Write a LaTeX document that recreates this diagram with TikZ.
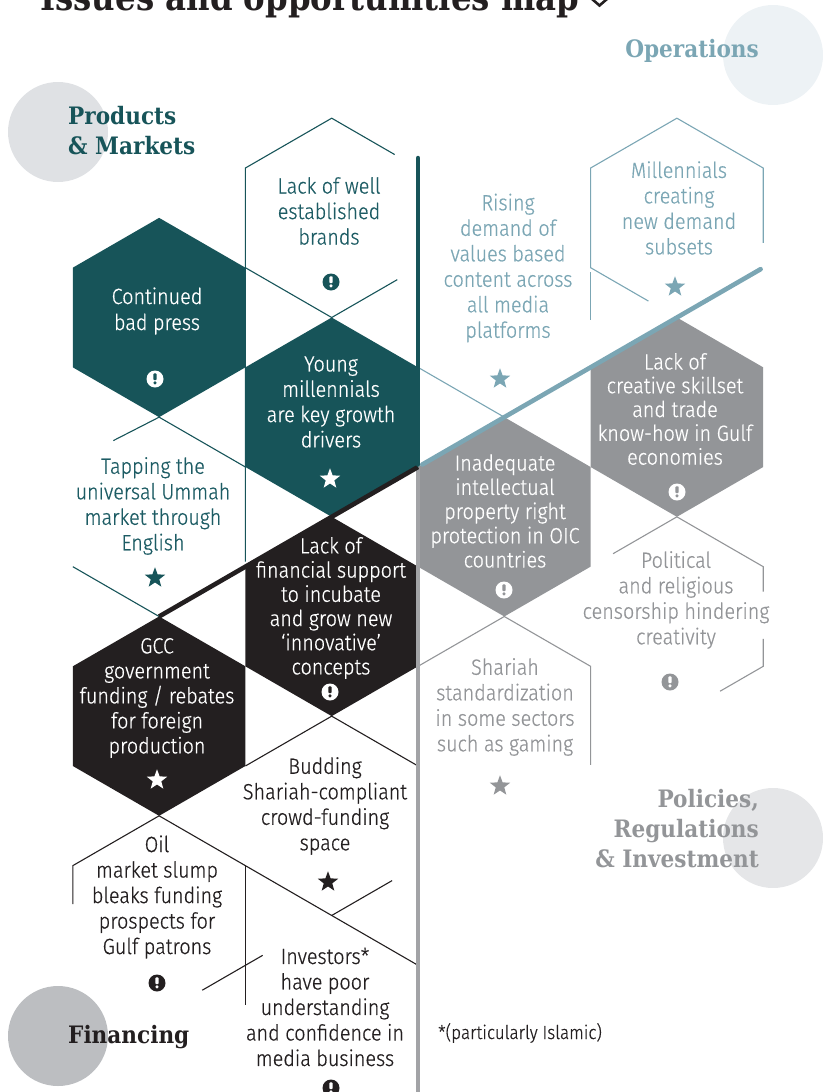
\documentclass[tikz,border=0pt]{standalone}
\usepackage{fontspec}
\usetikzlibrary{shapes.geometric}
\newfontfamily\hexf{Fira Sans Light}[FakeStretch=0.9, FakeBold=0.6]
\newfontfamily\slabf{DejaVu Serif}[FakeStretch=0.9]
\definecolor{tealc}{HTML}{175459}
\definecolor{tealt}{HTML}{1D5C64}
\definecolor{bluec}{HTML}{7BA6B4}
\definecolor{grayc}{HTML}{939598}
\definecolor{grayl}{HTML}{A2A3A6}
\definecolor{blackc}{HTML}{231F20}
\definecolor{circpm}{HTML}{DFE1E4}
\definecolor{circop}{HTML}{EDF2F5}
\definecolor{circpol}{HTML}{E5E6E8}
\definecolor{circfin}{HTML}{BCBEC1}
\newcommand\hexpath[2]{(#1,#2-2) -- (#1+1,#2-1) -- (#1+1,#2+1) -- (#1,#2+2) -- (#1-1,#2+1) -- (#1-1,#2-1) -- cycle}
\tikzset{
  thinl/.style={line width=1.1pt},
  thickl/.style={line width=4.6pt},
  hextext/.style={font=\hexf\fontsize{22}{25.5}\selectfont, align=center, inner sep=0pt},
  filltext/.style={font=\hexf\fontsize{22}{24.2}\selectfont, align=center, inner sep=0pt, text=white},
  label/.style={font=\slabf\bfseries\fontsize{24}{30}\selectfont, inner sep=0pt},
  starshape/.style={star, star points=5, star point ratio=2.4, minimum size=21.5pt, inner sep=0pt, draw=none},
  pics/warn/.style 2 args={code={
    \fill[#1] (0,0) circle (8.5pt);
    \fill[#2, rounded corners=0.7pt] (-1.6pt,-1.0pt) rectangle (1.6pt,5.6pt);
    \fill[#2] (0,-3.9pt) circle (1.7pt);
  }}
}
\begin{document}
\begin{tikzpicture}[x=1pt,y=-1pt]
\useasboundingbox (0,0) rectangle (823,1092);
\clip (0,0) rectangle (823,1092);
% quadrant circles
\fill[circpm] (58,132) circle (50pt);
\fill[circop] (773,55) circle (50pt);
\fill[circpol] (773,838) circle (50pt);
\fill[circfin] (58,1036) circle (50pt);
% title (cut by the top edge, as in the reference)
\node[font=\slabf\bfseries\fontsize{36}{40}\selectfont, text=blackc, anchor=base west, inner sep=0pt] (title) at (40,10) {Issues and opportunities map};
\draw[blackc, line width=2.6pt] (592,-1) -- (599.5,5.5) -- (607,-1);
\begin{scope}[shift={(418,467)},x=86.3pt,y=-49.83pt]
  % thin outlines: Products & Markets
  \draw[tealc, thinl] (-0.27,-6.27) -- (-1,-7) -- (-2,-6) -- (-2,1.9);
  \draw[tealc, thinl] (-2,-4) -- (-1,-3) -- (-0.24,-3.76);
  \draw[tealc, thinl] (-3.53,-0.53) -- (-3,-1) -- (-2,0);
  \draw[tealc, thinl] (-4,2) -- (-3,3);
  % Operations
  \draw[bluec, thinl] (0,-2) -- (1,-1);
  \draw[bluec, thinl] (2,-3.91) -- (2,-2.95);
  \draw[bluec, thinl] (4,-4.5) -- (4,-6) -- (3,-7) -- (2,-6) -- (2,-4) -- (2.67,-3.33);
  % Policies
  \draw[grayc, thinl] (2.26,1.74) -- (3,1) -- (4,2) -- (4,2.5);
  \draw[grayc, thinl] (4,3.45) -- (4,4) -- (3.5,4.5);
  \draw[grayc, thinl] (0,4) -- (1,3) -- (2,4) -- (2,5.98);
  % Financing
  \draw[blackc, thinl] (-2,6) -- (-1,5) -- (0,6);
  \draw[blackc, thinl] (-0.3,8.3) -- (-1,9);
  \draw[blackc, thinl] (-4,8.77) -- (-4,8) -- (-3,7) -- (0,10);
  \draw[blackc, thinl] (-2,8) -- (-2,10.8);
  \draw[blackc, thinl] (-2.5,10.5) -- (-1.8,9.8);
  % filled hexagons
  \fill[tealc] \hexpath{-3}{-3};
  \fill[tealc] \hexpath{-1}{-1};
  \fill[grayc] \hexpath{3}{-1};
  \fill[grayc] \hexpath{1}{1};
  \fill[blackc] \hexpath{-1}{3};
  \fill[blackc] \hexpath{-3}{5};
  % axes
  \draw[grayl, thickl] (0,0.02) -- (0,13);
  \draw[blackc, thickl] (0,0) -- (-3,3);
  \draw[tealc, thickl, line cap=round] (0,-0.05) -- (0,-6.2);
  \draw[bluec, thickl, line cap=round] (0.05,-0.05) -- (3.97,-3.97);
\end{scope}
% quadrant labels
\node[label, text=tealc, align=left, anchor=west] (pm) at (68,131) {Products\\\& Markets};
\node[label, text=bluec, anchor=east] (op) at (759,51) {Operations};
\node[label, text=grayc, align=right, anchor=east] (pol) at (759,829) {Policies,\\Regulations\\\& Investment};
\node[label, text=blackc, anchor=west] (fin) at (68,1037) {Financing};
% hexagon texts
\node[hextext, text=tealt] (brands) at (329,211) {Lack of well\\established\\brands};
\node[filltext, font=\hexf\fontsize{22}{26}\selectfont] (press) at (157,311) {Continued\\bad press};
\node[filltext, font=\hexf\fontsize{22}{25.3}\selectfont] (young) at (331,402) {Young\\millennials\\are key growth\\drivers};
\node[hextext, text=tealt] (ummah) at (153,506) {Tapping the\\universal Ummah\\market through\\English};
\node[hextext, text=bluec] (rising) at (508,268) {Rising\\demand of\\values based\\content across\\all media\\platforms};
\node[hextext, text=bluec] (subsets) at (679,208) {Millennials\\creating\\new demand\\subsets};
\node[filltext, font=\hexf\fontsize{22}{23.8}\selectfont] (skillset) at (675,409) {Lack of\\creative skillset\\and trade\\know-how in Gulf\\economies};
\node[filltext] (ipr) at (505,511) {Inadequate\\intellectual\\property right\\protection in OIC\\countries};
\node[hextext, text=grayc] (censor) at (676,600) {Political\\and religious\\censorship hindering\\creativity};
\node[hextext, text=grayc] (shariah) at (505,707) {Shariah\\standardization\\in some sectors\\such as gaming};
\node[filltext] (finsupport) at (331,608) {Lack of\\financial support\\to incubate\\and grow new\\‘innovative’\\concepts};
\node[filltext, font=\hexf\fontsize{22}{25}\selectfont] (gcc) at (157,698) {GCC\\government\\funding / rebates\\for foreign\\production};
\node[hextext, text=blackc] (crowd) at (325,806) {Budding\\Shariah-compliant\\crowd-funding\\space};
\node[hextext, text=blackc] (oil) at (157,897) {Oil\\market slump\\bleaks funding\\prospects for\\Gulf patrons};
\node[hextext, text=blackc] (investors) at (325,1007) {Investors*\\have poor\\understanding\\and confidence in\\media business};
\node[hextext, font=\hexf\fontsize{19}{22}\selectfont, text=blackc, anchor=west] (note) at (438,1033) {*(particularly Islamic)};
% icons
\pic at (331,282) {warn={tealc}{white}};
\pic at (155,379) {warn={white}{tealc}};
\node[starshape, fill=white] (s1) at (330,479) {};
\node[starshape, fill=tealc] (s2) at (155,578) {};
\node[starshape, fill=bluec] (s3) at (500,379) {};
\node[starshape, fill=bluec] (s4) at (675,287) {};
\pic at (677,492) {warn={white}{grayc}};
\pic at (504,590) {warn={white}{grayc}};
\pic at (670,682) {warn={grayc}{white}};
\node[starshape, fill=grayc] (s5) at (500,786) {};
\pic at (330,692) {warn={white}{blackc}};
\node[starshape, fill=white] (s6) at (157,780) {};
\node[starshape, fill=blackc] (s7) at (328,882) {};
\pic at (157,983) {warn={blackc}{white}};
\pic at (331,1088) {warn={blackc}{white}};
\end{tikzpicture}
\end{document}
